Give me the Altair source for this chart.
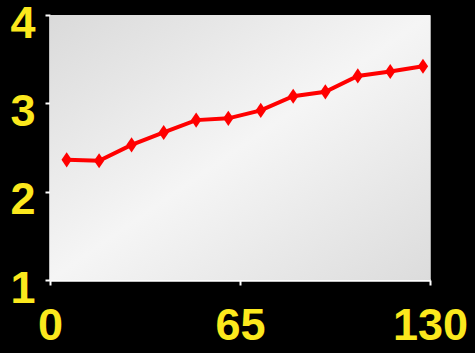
import altair as alt
import pandas as pd

x_vals = [5.7, 16.8, 27.9, 38.9, 50.0, 61.0, 72.1, 83.2, 94.2, 105.3, 116.4, 127.6]
y_vals = [2.36, 2.35, 2.53, 2.67, 2.81, 2.83, 2.92, 3.08, 3.13, 3.31, 3.36, 3.42]
x_ticks = [0, 65, 130]
y_ticks = [1, 2, 3, 4]

df = pd.DataFrame({"x": x_vals, "y": y_vals})

W, H = 380, 265

bg = alt.Chart(pd.DataFrame({"a": [0]})).mark_rect(
    color=alt.Gradient(
        gradient="linear",
        x1=0, y1=0, x2=1, y2=1,
        stops=[
            alt.GradientStop(color="#dadada", offset=0),
            alt.GradientStop(color="#f5f5f5", offset=0.5),
            alt.GradientStop(color="#dcdcdc", offset=1),
        ],
    )
).encode(
    x=alt.value(0), x2=alt.value(W), y=alt.value(0), y2=alt.value(H)
)

xenc = alt.X("x:Q", scale=alt.Scale(domain=[0, 130], nice=False),
             axis=alt.Axis(values=x_ticks, title=None, grid=False, labelPadding=18,
                           labelFlush=False, labelOverlap=False))
yenc = alt.Y("y:Q", scale=alt.Scale(domain=[1, 4], nice=False),
             axis=alt.Axis(values=y_ticks, title=None, grid=False, labelPadding=10,
                           labelOffset=8, labelFlush=False, labelOverlap=False))

line = alt.Chart(df).mark_line(color="#ff0000", strokeWidth=4).encode(x=xenc, y=yenc)
pts = alt.Chart(df).mark_point(
    shape="M0,-1L0.68,0L0,1L-0.68,0Z", size=230, filled=True, color="#ff0000", opacity=1
).encode(x=xenc, y=yenc)

chart = alt.layer(bg, line, pts).properties(
    width=W, height=H,
    background="#000000",
    padding={"left": 50, "top": 15, "right": 45, "bottom": 73},
    autosize=alt.AutoSizeParams(type="none"),
).configure_view(
    stroke="#a8a8a8", strokeWidth=1
).configure_axis(
    domainColor="#ffffff", domainWidth=2.5,
    tickColor="#ffffff", tickWidth=2, tickSize=5,
    labelColor="#fbe81d", labelFont="Liberation Sans", labelFontWeight="bold",
    labelFontSize=45,
)

chart.save("out.html", embed_options={"renderer": "svg", "actions": False})
